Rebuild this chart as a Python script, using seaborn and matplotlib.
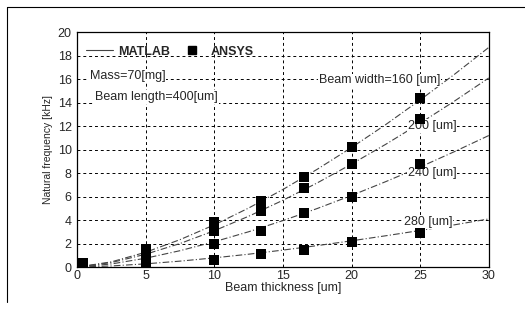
import numpy as np
import pandas as pd
import matplotlib.pyplot as plt
import seaborn as sns
from matplotlib.lines import Line2D

# MATLAB model curves
thick_curve = [0, 2.5, 5, 7.5, 10, 12.5, 15, 17.5, 20, 22.5, 25, 27.5, 30]
matlab_160 = [0, 0.45, 1.27, 2.34, 3.6, 5.03, 6.61, 8.33, 10.18, 12.14, 14.23, 16.41, 18.7]
matlab_200 = [0, 0.39, 1.10, 2.01, 3.10, 4.33, 5.69, 7.17, 8.77, 10.46, 12.25, 14.13, 16.1]
matlab_240 = [0, 0.27, 0.76, 1.40, 2.16, 3.01, 3.96, 4.99, 6.10, 7.28, 8.52, 9.83, 11.2]
matlab_280 = [0, 0.10, 0.28, 0.51, 0.79, 1.10, 1.45, 1.83, 2.24, 2.67, 3.12, 3.60, 4.1]

# ANSYS points
thick_pts = [5, 10, 13.4, 16.5, 20, 25]
ansys_160 = [1.5, 3.8, 5.6, 7.7, 10.2, 14.4]
ansys_200 = [1.1, 3.1, 4.8, 6.7, 8.8, 12.6]
ansys_240 = [0.7, 2.0, 3.1, 4.6, 6.0, 8.8]
ansys_280 = [0.2, 0.6, 1.1, 1.45, 2.1, 2.9]
extra_t = [0.4]
extra_f = [0.35]

widths = ['160', '200', '240', '280']

curves = pd.DataFrame({
    'thickness': thick_curve * 4,
    'freq': matlab_160 + matlab_200 + matlab_240 + matlab_280,
    'width': [w for w in widths for _ in thick_curve],
})
points = pd.DataFrame({
    'thickness': thick_pts * 4 + extra_t,
    'freq': ansys_160 + ansys_200 + ansys_240 + ansys_280 + extra_f,
})

sns.set_style('white')
plt.rcParams['font.family'] = ['Liberation Sans', 'DejaVu Sans']

fig = plt.figure(figsize=(5.25, 3.15), dpi=100)
ax = fig.add_axes([0.147, 0.152, 0.784, 0.746])

sns.lineplot(data=curves, x='thickness', y='freq', units='width', estimator=None,
             color='#444444', lw=0.8, linestyle=(0, (6, 2, 1, 2)), ax=ax)
sns.scatterplot(data=points, x='thickness', y='freq', marker='s', s=45,
                color='black', edgecolor='black', linewidth=0, ax=ax, zorder=4)

ax.set_xlim(0, 30)
ax.set_ylim(0, 20)
ax.set_xticks(range(0, 31, 5))
ax.set_yticks(range(0, 21, 2))
ax.tick_params(labelsize=9, length=3, direction='in')
ax.tick_params(axis='x', pad=2)
ax.tick_params(axis='y', pad=4)
ax.grid(True, color='black', linestyle=(0, (3, 3)), lw=0.7)
for s in ax.spines.values():
    s.set_color('black')
    s.set_linewidth(0.9)

ax.set_xlabel('Beam thickness [um]', fontsize=9, labelpad=0)
ax.set_ylabel('Natural frequency [kHz]', fontsize=7.5, labelpad=3)

handles = [Line2D([], [], color='#444444', lw=0.8),
           Line2D([], [], color='black', marker='s', lw=0, markersize=6)]
leg = ax.legend(handles, ['MATLAB', 'ANSYS'], loc='upper left', ncol=2,
                frameon=False, prop={'weight': 'bold', 'size': 9},
                handlelength=2.2, handletextpad=0.4, columnspacing=0.6,
                borderaxespad=0.3, bbox_to_anchor=(0.0, 0.98))

box = dict(fc='white', ec='none', pad=0.5)
ax.text(0.9, 16.3, 'Mass=70[mg]', fontsize=9, va='center', bbox=box, zorder=3)
ax.text(1.3, 14.5, 'Beam length=400[um]', fontsize=9, va='center', bbox=box, zorder=3)

ax.text(17.6, 15.9, 'Beam width=160 [um]', fontsize=9, va='center', bbox=box, zorder=3)
ax.text(24.1, 12.0, '200 [um]', fontsize=9, va='center', bbox=box, zorder=3)
ax.text(24.1, 8.0, '240 [um]', fontsize=9, va='center', bbox=box, zorder=3)
ax.text(23.8, 3.8, '280 [um]', fontsize=9, va='center', bbox=box, zorder=3)

# outer frame lines (top and left)
fig.add_artist(Line2D([0.013, 1.0], [0.978, 0.978], color='black', lw=0.8,
                      transform=fig.transFigure))
fig.add_artist(Line2D([0.013, 0.013], [0.978, 0.04], color='black', lw=0.8,
                      transform=fig.transFigure))

fig.savefig('out.png', dpi=100)
